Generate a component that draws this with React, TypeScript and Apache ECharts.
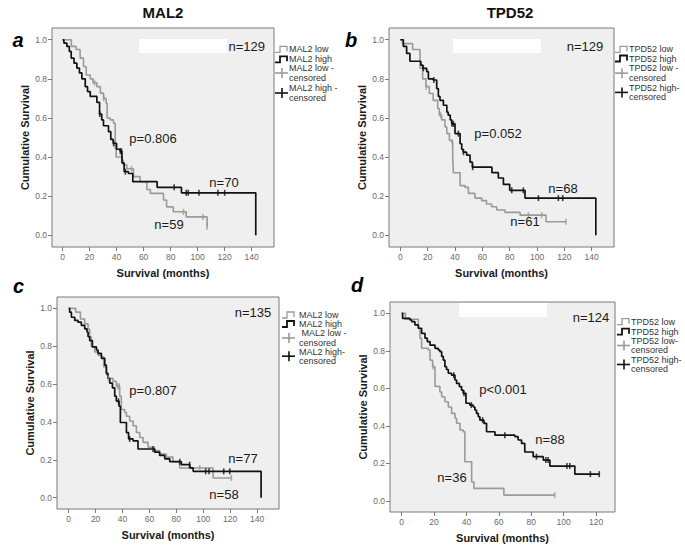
import React, { useEffect, useRef } from 'react';
import * as echarts from 'echarts';

// ---------- data (months, cumulative survival) ----------
const aLow = [[0,1],[6.5,0.966],[10,0.95],[13,0.906],[15.5,0.863],[17.5,0.82],[20.5,0.8],[22.5,0.78],[25.4,0.76],[28,0.727],[30.3,0.7],[32.3,0.675],[33,0.6],[35.3,0.59],[37.7,0.573],[39,0.444],[39.7,0.4],[44,0.385],[45,0.36],[47.6,0.34],[52.5,0.3],[57.4,0.274],[62.4,0.234],[65,0.214],[74.7,0.18],[77,0.145],[82,0.12],[91.5,0.094],[107,0.043]];
const aHigh = [[0,1],[1,0.983],[3.2,0.966],[5,0.94],[6.4,0.906],[8.5,0.88],[10.6,0.855],[12.5,0.83],[14.3,0.8],[16.8,0.76],[18.5,0.735],[20.5,0.71],[25.4,0.68],[27.4,0.62],[29,0.59],[30.3,0.56],[34,0.53],[35.7,0.49],[37.5,0.47],[40,0.44],[42.6,0.43],[44,0.37],[45.6,0.325],[48.8,0.316],[52,0.274],[70,0.245],[88,0.217],[143,0]];
const aLowCens = [23.7, 30.5, 51, 89.5, 104, 107];
const aHighCens = [27.5, 37.8, 42.8, 43.6, 46.5, 82.6, 91.5, 93, 101, 115, 120];

const bLow = [[0,1],[1.5,0.98],[9,0.95],[14.4,0.854],[16.3,0.8],[18.8,0.76],[21.2,0.725],[24,0.69],[27.3,0.648],[28.5,0.614],[30.2,0.59],[32.7,0.554],[34,0.52],[35.9,0.485],[37.6,0.477],[38.3,0.4],[38.8,0.32],[43.7,0.254],[47.3,0.245],[49.8,0.214],[54.6,0.19],[59.5,0.177],[63,0.16],[66.8,0.146],[70.5,0.129],[76.6,0.117],[87.6,0.103],[106.6,0.069],[121.2,0.069]];
const bHigh = [[0,1],[2.2,0.966],[4.6,0.93],[7,0.89],[15,0.87],[16.5,0.854],[19.3,0.837],[20.5,0.8],[24,0.794],[26.6,0.75],[27.8,0.71],[29,0.69],[31.5,0.665],[34,0.63],[35,0.614],[36.5,0.59],[37.6,0.57],[40,0.52],[43.7,0.468],[44.9,0.44],[46,0.425],[48.5,0.41],[51,0.374],[52.7,0.348],[67,0.32],[71.7,0.293],[75.4,0.26],[80,0.23],[91.2,0.19],[143,0]];
const bLowCens = [18.8, 29.5, 38, 93.7, 103.4, 121.2];
const bHighCens = [16.8, 24.5, 37.8, 38.8, 42.4, 46.2, 52.9, 81.5, 90, 101, 115.6, 118.8];

const cLow = [[0,1],[5.2,0.98],[8.7,0.944],[11.9,0.918],[14.4,0.89],[15.6,0.85],[16.8,0.797],[19.3,0.77],[21.8,0.753],[24.3,0.744],[26,0.69],[28,0.65],[29.2,0.63],[32.9,0.614],[35.4,0.588],[37.9,0.536],[39.1,0.466],[41.6,0.45],[42.9,0.43],[45.3,0.405],[47.8,0.38],[50.3,0.344],[52.8,0.318],[55.3,0.292],[59,0.266],[63.9,0.249],[67.6,0.23],[72.6,0.214],[77.5,0.19],[82.5,0.157],[107.3,0.104],[120.9,0.104]];
const cHigh = [[0,1],[0.7,0.98],[2,0.953],[4.5,0.936],[6.9,0.927],[9.4,0.91],[11.9,0.892],[13.6,0.875],[14.4,0.85],[15.6,0.83],[17.6,0.797],[20.6,0.78],[21.8,0.762],[24.3,0.736],[26.8,0.7],[28,0.657],[29.2,0.63],[30.5,0.605],[32.5,0.58],[34.2,0.536],[35.4,0.51],[37.4,0.483],[38.4,0.397],[42.9,0.344],[44.5,0.31],[47.8,0.3],[51.5,0.257],[63.9,0.24],[67.6,0.223],[71.4,0.205],[75.1,0.19],[83.7,0.174],[90,0.157],[92.5,0.139],[143,0]];
const cLowCens = [29.5, 36.5, 37.5, 97.4, 120.9];
const cHighCens = [37, 45.3, 62.7, 82.5, 89.9, 101.8, 104.3, 115.2, 119.7];

const dLow = [[0,1],[2.3,0.968],[10.3,0.92],[11.3,0.867],[12.3,0.813],[16.4,0.804],[17.5,0.75],[19.1,0.715],[20.6,0.61],[23.6,0.58],[24.7,0.555],[26.7,0.528],[28.8,0.5],[30.8,0.466],[32.9,0.44],[33.9,0.413],[36,0.377],[38,0.368],[39,0.208],[43.2,0.1],[44.6,0.066],[63.1,0.03],[94.5,0.03]];
const dHigh = [[0,1],[0.6,0.973],[5.1,0.964],[6.2,0.955],[8.2,0.938],[10.3,0.92],[12.3,0.893],[14.4,0.867],[15.8,0.849],[17.5,0.83],[20.6,0.813],[22.6,0.804],[23.6,0.795],[24.7,0.77],[25.7,0.75],[26.7,0.715],[27.7,0.7],[28.8,0.68],[30.8,0.67],[32.9,0.644],[33.9,0.626],[35.6,0.609],[37,0.59],[38,0.573],[39.7,0.52],[42.1,0.51],[44.2,0.5],[45.2,0.484],[46.2,0.466],[47.3,0.448],[48.3,0.43],[50.8,0.413],[52.4,0.368],[57.6,0.35],[69.9,0.342],[71.9,0.324],[74,0.306],[76,0.26],[81.2,0.235],[87.4,0.217],[91.5,0.185],[106.9,0.142],[122,0.142]];
const dLowCens = [19.5, 94.5];
const dHighCens = [32.2, 38.5, 43, 50, 63.7, 83.2, 89, 90.4, 102, 103.8, 116.5, 122];

const yTicks = [0, 0.2, 0.4, 0.6, 0.8, 1.0];
const xTicks140 = [0, 20, 40, 60, 80, 100, 120, 140];
const xTicks120 = [0, 20, 40, 60, 80, 100, 120];

const geneTitles = ['MAL2', 'TPD52'];
const panelLetters = ['a', 'b', 'c', 'd'];
const legendLabels = [
  ['MAL2 low', 'MAL2 high', 'MAL2 low -', 'MAL2 high -'],
  ['TPD52 low', 'TPD52 high', 'TPD52 low -', 'TPD52 high-'],
  ['MAL2 low', 'MAL2 high', ' MAL2 low -', 'MAL2 high-'],
  ['TPD52 low', 'TPD52 high', 'TPD52 low-', 'TPD52 high-'],
];
const totalN = ['n=129', 'n=129', 'n=135', 'n=124'];
const pValues = ['p=0.806', 'p=0.052', 'p=0.807', 'p<0.001'];
const highN = ['n=70', 'n=68', 'n=77', 'n=88'];
const lowN = ['n=59', 'n=61', 'n=58', 'n=36'];

const FONT = '"Liberation Sans", Arial, Helvetica, sans-serif';
const GREY = '#9a9a9a';
const BLACK = '#121212';

function survAt(curve: number[][], t: number) {
  let s = curve[0][1];
  for (const [x, y] of curve) {
    if (x <= t + 1e-9) s = y; else break;
  }
  return s;
}

const panels = [
  { grid: { left: 52, top: 28, width: 222, height: 219 }, xMin: -7.8, xMax: 156.5, xTicks: xTicks140, low: aLow, high: aHigh, lowC: aLowCens, highC: aHighCens,
    letter: [18, 40], white: [139, 39, 88, 14], nT: [246.7, 46.7], p: [153, 138], nH: [224, 182], nL: [169, 224],
    leg: { ix: 275, tx: 289, r: [49.3, 59.3, 68.3, 77.7, 88.3, 97.7] } },
  { grid: { left: 389, top: 28, width: 225, height: 219 }, xMin: -8.3, xMax: 156.3, xTicks: xTicks140, low: bLow, high: bHigh, lowC: bLowCens, highC: bHighCens,
    letter: [351, 40], white: [453, 39, 88, 14], nT: [585, 46], p: [498, 133], nH: [563, 188], nL: [525, 221],
    leg: { ix: 615, tx: 629, r: [49.3, 58.5, 68.3, 78, 87.5, 97.3] } },
  { grid: { left: 57, top: 297, width: 222, height: 212 }, xMin: -8.7, xMax: 156.3, xTicks: xTicks140, low: cLow, high: cHigh, lowC: cLowCens, highC: cHighCens,
    letter: [18.5, 286], white: null, nT: [253, 312], p: [153, 390], nH: [243, 458], nL: [224, 494],
    leg: { ix: 282, tx: 299, r: [315, 324, 333.3, 342.7, 351.7, 360.7] } },
  { grid: { left: 390, top: 302, width: 225, height: 210 }, xMin: -7.2, xMax: 131.7, xTicks: xTicks120, low: dLow, high: dHigh, lowC: dLowCens, highC: dHighCens,
    letter: [357, 284.5], white: [459, 303, 88, 14], nT: [591, 317], p: [503, 389], nH: [550, 439], nL: [452, 477],
    leg: { ix: 617, tx: 631, r: [321.7, 331.7, 341, 350, 360, 369] } },
];

function buildOption() {
  const grids: any[] = [];
  const xAxes: any[] = [];
  const yAxes: any[] = [];
  const series: any[] = [];
  const graphics: any[] = [];

  const txt = (x: number, y: number, text: string, font: string, fill = '#1a1a1a', align = 'center', lineHeight?: number) => ({
    type: 'text', x, y, z: 100, style: { text, font, fill, align, verticalAlign: 'middle', ...(lineHeight ? { lineHeight } : {}) },
  });

  panels.forEach((p, i) => {
    grids.push({ ...p.grid, show: true, backgroundColor: '#efefef', borderColor: '#7a7a7a', borderWidth: 1, outerBoundsMode: 'none', containLabel: false });
    xAxes.push({
      gridIndex: i, type: 'value', min: p.xMin, max: p.xMax,
      axisLine: { show: false, onZero: false },
      axisTick: { show: true, customValues: p.xTicks, length: 4, lineStyle: { color: '#7a7a7a' } },
      axisLabel: { customValues: p.xTicks, fontSize: 8.5, color: '#6a6a6a', fontFamily: FONT, margin: 5 },
      splitLine: { show: false },
      name: 'Survival (months)', nameLocation: 'middle', nameGap: 20,
      nameTextStyle: { fontWeight: 'bold', fontSize: 11, color: '#1a1a1a', fontFamily: FONT },
    });
    yAxes.push({
      gridIndex: i, type: 'value', min: -0.06, max: 1.06,
      axisLine: { show: false, onZero: false },
      axisTick: { show: true, customValues: yTicks, length: 4, lineStyle: { color: '#7a7a7a' } },
      axisLabel: { customValues: yTicks, fontSize: 8.5, color: '#6a6a6a', fontFamily: FONT, margin: 5, formatter: (v: number) => v.toFixed(1) },
      splitLine: { show: false },
      name: 'Cumulative Survival', nameLocation: 'middle', nameGap: 22,
      nameTextStyle: { fontWeight: 'bold', fontSize: 11, color: '#1a1a1a', fontFamily: FONT },
    });
    series.push({ type: 'line', xAxisIndex: i, yAxisIndex: i, data: p.low, step: 'end', showSymbol: false, silent: true, z: 2, lineStyle: { color: GREY, width: 1.6 } });
    series.push({ type: 'line', xAxisIndex: i, yAxisIndex: i, data: p.high, step: 'end', showSymbol: false, silent: true, z: 3, lineStyle: { color: BLACK, width: 1.7 } });
    series.push({ type: 'scatter', xAxisIndex: i, yAxisIndex: i, data: p.lowC.map((t) => [t, survAt(p.low, t)]), symbol: 'rect', symbolSize: [1.6, 6], silent: true, z: 4, itemStyle: { color: GREY } });
    series.push({ type: 'scatter', xAxisIndex: i, yAxisIndex: i, data: p.highC.map((t) => [t, survAt(p.high, t)]), symbol: 'rect', symbolSize: [1.6, 6], silent: true, z: 5, itemStyle: { color: BLACK } });

    // annotations
    graphics.push({ type: 'text', x: p.letter[0], y: p.letter[1], z: 100, style: { text: panelLetters[i], font: `italic bold 20px ${FONT}`, fill: '#000', align: 'center', verticalAlign: 'middle' } });
    if (p.white) graphics.push({ type: 'rect', z: 90, shape: { x: p.white[0], y: p.white[1], width: p.white[2], height: p.white[3] }, style: { fill: '#ffffff' } });
    graphics.push(txt(p.nT[0], p.nT[1], totalN[i], `13px ${FONT}`));
    graphics.push(txt(p.p[0], p.p[1], pValues[i], `13px ${FONT}`));
    graphics.push(txt(p.nH[0], p.nH[1], highN[i], `13px ${FONT}`));
    graphics.push(txt(p.nL[0], p.nL[1], lowN[i], `13px ${FONT}`));

    // legend
    const { ix, tx, r } = p.leg;
    const stepIcon = (y: number, color: string, w: number) => ({
      type: 'polyline', z: 100,
      shape: { points: [[ix, y + 3], [ix + 5, y + 3], [ix + 5, y - 3], [ix + 12, y - 3], [ix + 12, y + 2]] },
      style: { stroke: color, lineWidth: w, fill: 'none' },
    });
    const plusIcon = (y: number, color: string) => ([
      { type: 'line', z: 100, shape: { x1: ix, y1: y, x2: ix + 13, y2: y }, style: { stroke: color, lineWidth: 1.6 } },
      { type: 'line', z: 100, shape: { x1: ix + 7, y1: y - 5, x2: ix + 7, y2: y + 5 }, style: { stroke: color, lineWidth: 1.6 } },
    ]);
    const lf = `9px ${FONT}`;
    graphics.push(stepIcon(r[0], GREY, 1.3));
    graphics.push(stepIcon(r[1], BLACK, 1.8));
    graphics.push(...plusIcon((r[2] + r[3]) / 2, GREY));
    graphics.push(...plusIcon((r[4] + r[5]) / 2, BLACK));
    graphics.push(txt(tx, r[0], legendLabels[i][0], lf, '#333', 'left'));
    graphics.push(txt(tx, r[1], legendLabels[i][1], lf, '#333', 'left'));
    graphics.push(txt(tx, (r[2] + r[3]) / 2, `${legendLabels[i][2]}\ncensored`, lf, '#333', 'left', r[3] - r[2]));
    graphics.push(txt(tx, (r[4] + r[5]) / 2, `${legendLabels[i][3]}\ncensored`, lf, '#333', 'left', r[5] - r[4]));
  });

  graphics.push(txt(163, 12, geneTitles[0], `bold 15px ${FONT}`, '#111'));
  graphics.push(txt(510, 12, geneTitles[1], `bold 15px ${FONT}`, '#111'));

  return {
    animation: false,
    backgroundColor: '#ffffff',
    textStyle: { fontFamily: FONT },
    grid: grids,
    xAxis: xAxes,
    yAxis: yAxes,
    series,
    graphic: graphics,
  };
}

export default function App() {
  const ref = useRef<HTMLDivElement>(null);
  useEffect(() => {
    if (!ref.current) return;
    const chart = echarts.init(ref.current, null, { renderer: 'svg' });
    chart.setOption(buildOption() as any);
    return () => chart.dispose();
  }, []);
  return <div ref={ref} style={{ position: 'fixed', left: 0, top: 0, width: 685, height: 552 }} />;
}
